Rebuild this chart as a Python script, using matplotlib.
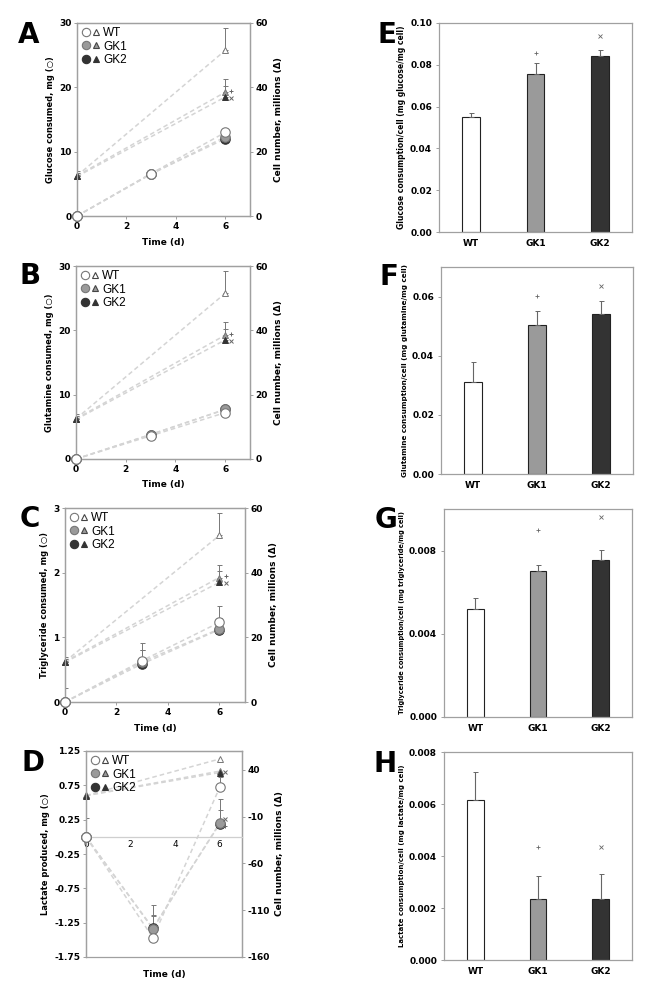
import numpy as np
import matplotlib
matplotlib.use('Agg')
import matplotlib.pyplot as plt
from matplotlib.legend_handler import HandlerTuple
from matplotlib.lines import Line2D

# ---------------- data ----------------
groups = ['WT', 'GK1', 'GK2']
days = [0, 3, 6]
cell_days = [0, 6]

# cell number (millions), shared experiment
cells_wt = [12.5, 51.5]
cells_gk1 = [12.5, 38.5]
cells_gk2 = [12.3, 37.0]
cells_err_wt = [1.5, 7.0]
cells_err_gk1 = [0.8, 4.0]
cells_err_gk2 = [0.5, 3.5]

# A glucose consumed (mg)
glc_wt = [0, 6.6, 13.0]
glc_gk1 = [0, 6.5, 12.3]
glc_gk2 = [0, 6.6, 12.0]
glc_err_wt = [0, 0, 0]
glc_err_gk1 = [0, 0, 0]
glc_err_gk2 = [0, 0, 0]

# B glutamine consumed (mg)
gln_wt = [0, 3.6, 7.2]
gln_gk1 = [0, 3.8, 7.7]
gln_gk2 = [0, 3.8, 7.7]
gln_err_wt = [0, 0, 0]
gln_err_gk1 = [0, 0, 0]
gln_err_gk2 = [0, 0, 0]

# C triglyceride consumed (mg)
tg_wt = [0, 0.64, 1.23]
tg_gk1 = [0, 0.62, 1.13]
tg_gk2 = [0, 0.59, 1.12]
tg_err_wt = [0.22, 0.28, 0.25]
tg_err_gk1 = [0, 0.18, 0.17]
tg_err_gk2 = [0, 0.21, 0.18]

# D lactate produced (mg)
lac_wt = [0, -1.47, 0.72]
lac_gk1 = [0, -1.34, 0.20]
lac_gk2 = [0, -1.33, 0.19]
lac_err_wt = [0.27, 0.32, 0.15]
lac_err_gk1 = [0, 0.34, 0.35]
lac_err_gk2 = [0, 0.19, 0.20]

# significance markers on line panels (x, y)
sig_cells_plus = (6.25, 39.0)
sig_cells_x = (6.25, 36.8)
sig_lac_x = (6.22, 0.26)
sig_lac_plus = (6.22, 0.16)
sig_lac_cells_x = (6.25, 37.5)

# E-H per-cell consumption bars
glc_cell = [0.0552, 0.0757, 0.0843]
glc_cell_err = [0.0018, 0.0050, 0.0028]
glc_cell_sig = [None, 0.0855, 0.0940]

gln_cell = [0.0310, 0.0505, 0.0540]
gln_cell_err = [0.0068, 0.0045, 0.0045]
gln_cell_sig = [None, 0.0603, 0.0636]

tg_cell = [0.00520, 0.00700, 0.00756]
tg_cell_err = [0.00050, 0.00030, 0.00045]
tg_cell_sig = [None, 0.0090, 0.0096]

lac_cell = [0.00615, 0.00235, 0.00233]
lac_cell_err = [0.00110, 0.00088, 0.00097]
lac_cell_sig = [None, 0.00433, 0.00433]

# ---------------- style ----------------
plt.rcParams['font.family'] = ['DejaVu Sans']
plt.rcParams['axes.unicode_minus'] = False
W, H = 647, 993
fig = plt.figure(figsize=(W / 100, H / 100), dpi=100)

face = {'WT': 'white', 'GK1': '#9a9a9a', 'GK2': '#333333'}
edge = {'WT': '#777777', 'GK1': '#777777', 'GK2': '#333333'}
spine_c = '#a0a0a0'
dash_c = '#d4d4d4'
err_c = '#777777'


def ax_rect(x0, y0, x1, y1):
    return [x0 / W, 1 - y1 / H, (x1 - x0) / W, (y1 - y0) / H]


def style_spines(ax):
    for s in ax.spines.values():
        s.set_color(spine_c)
        s.set_linewidth(0.9)


def line_panel(rect, circ, circ_err, cells, cells_err, lylim, lyticks, lfmt,
               rylim, ryticks, ylabel, tri_err=True, zero_axis=False,
               sigs_left=(), sigs_right=()):
    ax = fig.add_axes(rect)
    ax2 = ax.twinx()
    style_spines(ax)
    style_spines(ax2)
    # triangles: cell numbers on right axis
    for g, y, e in zip(groups, cells, cells_err):
        ax2.plot(cell_days, y, ls=(0, (3, 2)), color=dash_c, lw=1.1, zorder=1)
        if tri_err:
            ax2.errorbar(cell_days, y, yerr=[np.zeros(len(e)), e], fmt='none',
                         ecolor=err_c, elinewidth=0.7, capsize=1.8, capthick=0.7, zorder=2)
        ax2.plot(cell_days, y, ls='none', marker='^', ms=4.5, mfc=face[g],
                 mec=edge[g], mew=0.7, zorder=3, clip_on=False)
    for (sx, sy), m in sigs_right:
        ax2.plot([sx], [sy], ls='none', marker=m, ms=3.5, mew=0.7, color='#666666', zorder=4)
    # circles: consumption on left axis
    order = ['GK2', 'GK1', 'WT']
    idx = {g: i for i, g in enumerate(groups)}
    for g in order:
        y = circ[idx[g]]
        e = circ_err[idx[g]]
        ax.plot(days, y, ls=(0, (3, 2)), color=dash_c, lw=1.1, zorder=1)
        if np.any(np.array(e) > 0):
            ax.errorbar(days, y, yerr=[np.zeros(len(e)), e], fmt='none',
                        ecolor=err_c, elinewidth=0.7, capsize=1.8, capthick=0.7, zorder=2)
    for g in order:
        y = circ[idx[g]]
        ax.plot(days, y, ls='none', marker='o', ms=6.8, mfc=face[g],
                mec=edge[g], mew=0.8, zorder=3, clip_on=False)
    for (sx, sy), m in sigs_left:
        ax.plot([sx], [sy], ls='none', marker=m, ms=3.5, mew=0.7, color='#666666', zorder=4)
    ax.set_zorder(ax2.get_zorder() + 1)
    ax.patch.set_visible(False)

    ax.set_xlim(0, 7)
    ax.set_xticks([0, 2, 4, 6])
    ax.set_ylim(*lylim)
    ax.set_yticks(lyticks)
    ax.set_yticklabels([lfmt.format(v) for v in lyticks])
    ax2.set_ylim(*rylim)
    ax2.set_yticks(ryticks)
    for a in (ax, ax2):
        a.tick_params(labelsize=6.5, length=2, width=0.7, color=spine_c, pad=2)
        for lab in a.get_xticklabels() + a.get_yticklabels():
            lab.set_fontweight('bold')
    ax.set_ylabel(ylabel, fontsize=6, fontweight='bold', labelpad=3)
    ax2.set_ylabel('Cell number, millions (Δ)', fontsize=6.5, fontweight='bold', labelpad=4)
    ax.set_xlabel('Time (d)', fontsize=6.5, fontweight='bold', labelpad=5)
    if zero_axis:
        ax.spines['bottom'].set_position(('data', 0))
        ax.spines['bottom'].set_color('#cfcfcf')
        ax.tick_params(axis='x', length=0)
        ax.xaxis.set_label_coords(0.5, -0.065)
    # legend
    handles = []
    for g in groups:
        c = Line2D([], [], ls='none', marker='o', ms=6, mfc=face[g], mec=edge[g], mew=0.8)
        t = Line2D([], [], ls='none', marker='^', ms=5, mfc=face[g],
                   mec='#444444' if g != 'GK2' else edge[g], mew=0.8)
        handles.append((c, t))
    ax.legend(handles, groups, handler_map={tuple: HandlerTuple(ndivide=None, pad=0.1)},
              loc='upper left', frameon=False, handlelength=1.7,
              handletextpad=0.15, labelspacing=0.12, borderaxespad=0.15,
              borderpad=0.2, prop={'family': 'Liberation Sans', 'size': 8.5})
    return ax, ax2


line_panel(ax_rect(77, 23, 250, 216),
           [glc_wt, glc_gk1, glc_gk2], [glc_err_wt, glc_err_gk1, glc_err_gk2],
           [cells_wt, cells_gk1, cells_gk2], [cells_err_wt, cells_err_gk1, cells_err_gk2],
           (0, 30), [0, 10, 20, 30], '{:g}', (0, 60), [0, 20, 40, 60],
           'Glucose consumed, mg (○)',
           sigs_right=[(sig_cells_plus, '+'), (sig_cells_x, 'x')])

line_panel(ax_rect(76, 266, 250, 459),
           [gln_wt, gln_gk1, gln_gk2], [gln_err_wt, gln_err_gk1, gln_err_gk2],
           [cells_wt, cells_gk1, cells_gk2], [cells_err_wt, cells_err_gk1, cells_err_gk2],
           (0, 30), [0, 10, 20, 30], '{:g}', (0, 60), [0, 20, 40, 60],
           'Glutamine consumed, mg (○)',
           sigs_right=[(sig_cells_plus, '+'), (sig_cells_x, 'x')])

line_panel(ax_rect(65, 508, 245, 702),
           [tg_wt, tg_gk1, tg_gk2], [tg_err_wt, tg_err_gk1, tg_err_gk2],
           [cells_wt, cells_gk1, cells_gk2], [cells_err_wt, cells_err_gk1, cells_err_gk2],
           (0, 3), [0, 1, 2, 3], '{:g}', (0, 60), [0, 20, 40, 60],
           'Triglyceride consumed, mg (○)',
           sigs_right=[(sig_cells_plus, '+'), (sig_cells_x, 'x')])

lac_ticks = [-1.75, -1.25, -0.75, -0.25, 0.25, 0.75, 1.25]
line_panel(ax_rect(86, 751, 242, 957),
           [lac_wt, lac_gk1, lac_gk2], [lac_err_wt, lac_err_gk1, lac_err_gk2],
           [cells_wt, cells_gk1, cells_gk2], [cells_err_wt, cells_err_gk1, cells_err_gk2],
           (-1.75, 1.25), lac_ticks, '{:.2f}', (-160, 60), [-160, -110, -60, -10, 40],
           'Lactate produced, mg (○)', tri_err=False, zero_axis=True,
           sigs_left=[(sig_lac_x, 'x'), (sig_lac_plus, '+')],
           sigs_right=[(sig_lac_cells_x, 'x')])


def bar_panel(rect, vals, errs, sigs, ylim, yticks, fmt, ylabel, lsize):
    ax = fig.add_axes(rect)
    style_spines(ax)
    x = np.arange(len(groups))
    ax.bar(x, vals, width=0.27, color=[face[g] for g in groups],
           edgecolor='#222222', linewidth=0.8, zorder=2)
    ax.errorbar(x, vals, yerr=[np.zeros(len(errs)), errs], fmt='none',
                ecolor='#666666', elinewidth=0.8, capsize=1.8, capthick=0.7, zorder=3)
    for xi, s in zip(x, sigs):
        if s is not None:
            ax.plot([xi], [s], ls='none', marker='+' if xi == 1 else 'x',
                    ms=3.5, mew=0.6, color='#666666')
    ax.set_xlim(-0.5, 2.5)
    ax.set_ylim(*ylim)
    ax.set_yticks(yticks)
    ax.set_yticklabels([fmt.format(v) for v in yticks])
    ax.set_xticks(x)
    ax.set_xticklabels(groups)
    ax.tick_params(labelsize=6.5, length=0, pad=5)
    ax.tick_params(axis='y', length=2, width=0.7, color=spine_c, pad=3)
    for lab in ax.get_xticklabels() + ax.get_yticklabels():
        lab.set_fontweight('bold')
    ax.set_ylabel(ylabel, fontsize=lsize, fontweight='bold', labelpad=3)
    return ax


bar_panel(ax_rect(439, 23, 632, 232), glc_cell, glc_cell_err, glc_cell_sig,
          (0, 0.10), [0, 0.02, 0.04, 0.06, 0.08, 0.10], '{:.2f}',
          'Glucose consumption/cell (mg glucose/mg cell)', 5.5)
bar_panel(ax_rect(441, 267, 633, 474), gln_cell, gln_cell_err, gln_cell_sig,
          (0, 0.07), [0, 0.02, 0.04, 0.06], '{:.2f}',
          'Glutamine consumption/cell (mg glutamine/mg cell)', 5.2)
bar_panel(ax_rect(444, 509, 632, 717), tg_cell, tg_cell_err, tg_cell_sig,
          (0, 0.010), [0, 0.004, 0.008], '{:.3f}',
          'Triglyceride consumption/cell (mg triglyceride/mg cell)', 4.8)
bar_panel(ax_rect(444, 752, 632, 960), lac_cell, lac_cell_err, lac_cell_sig,
          (0, 0.008), [0, 0.002, 0.004, 0.006, 0.008], '{:.3f}',
          'Lactate consumption/cell (mg lactate/mg cell)', 5.0)

letters = ['A', 'B', 'C', 'D', 'E', 'F', 'G', 'H']
letter_pos = [(18, 43), (20, 284), (20, 527), (22, 771),
              (377, 43), (379, 285), (375, 528), (373, 772)]
for L, (px, py) in zip(letters, letter_pos):
    fig.text(px / W, 1 - py / H, L, fontsize=20, fontweight='bold',
             ha='left', va='baseline')

fig.savefig('out.png', dpi=100)
